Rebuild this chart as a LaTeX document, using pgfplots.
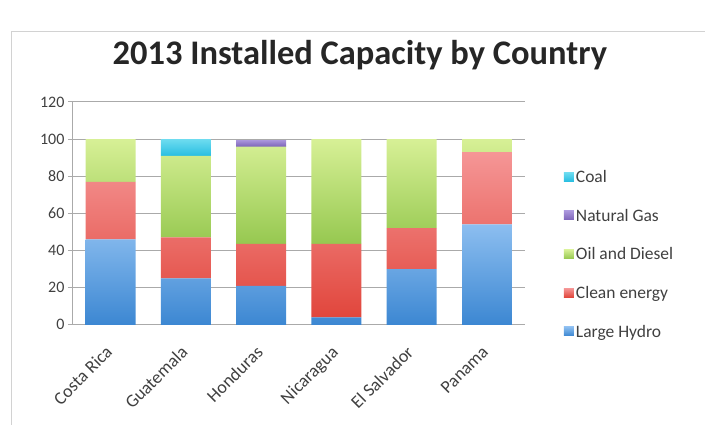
\documentclass[border=0pt]{standalone}
\usepackage{pgfplots}
\pgfplotsset{compat=1.18}
\usepackage{fontspec}
\setmainfont{Carlito}
\definecolor{hydroT}{RGB}{140,190,240}
\definecolor{hydroB}{RGB}{60,135,210}
\definecolor{cleanT}{RGB}{245,150,150}
\definecolor{cleanB}{RGB}{225,70,60}
\definecolor{oilT}{RGB}{215,240,150}
\definecolor{oilB}{RGB}{150,200,80}
\definecolor{gasT}{RGB}{170,150,220}
\definecolor{gasB}{RGB}{125,100,185}
\definecolor{coalT}{RGB}{110,220,240}
\definecolor{coalB}{RGB}{40,190,225}
\definecolor{tick}{RGB}{64,64,64}
\definecolor{gridc}{RGB}{170,170,170}
\begin{document}
\begin{tikzpicture}[x=1pt,y=1pt]
\path (0,0) rectangle (705,-425);
\draw[gray!35,line width=1pt] (12,-425) -- (12,-32) -- (705,-32);
\node[font=\fontsize{34.5}{40}\selectfont\bfseries,text=black!85] at (360,-55) {2013 Installed Capacity by Country};
\begin{axis}[
  at={(73pt,-325pt)}, anchor=south west,
  scale only axis, width=452pt, height=223pt,
  ybar stacked, bar width=50pt,
  xmin=-0.5, xmax=5.5, ymin=0, ymax=120,
  ytick={0,20,...,120},
  xtick={0,1,2,3,4,5},
  xticklabels={Costa Rica,Guatemala,Honduras,Nicaragua,El Salvador,Panama},
  x tick label style={xshift=-6pt, yshift=-10pt, rotate=45, anchor=north east, font=\fontsize{18}{20}\selectfont, text=tick},
  y tick label style={font=\fontsize{16}{18}\selectfont, text=tick},
  /pgf/number format/assume math mode=true,
  ymajorgrids, grid style={gridc, line width=1pt},
  axis x line*=bottom, axis y line*=left,
  x axis line style={gridc, line width=1pt, -},
  y axis line style={gridc, line width=1pt, -},
  xtick style={draw=none},
  ytick style={gridc, line width=1pt},
  tick align=outside, major tick length=5pt,
  reverse legend,
  legend style={at={(1.08,0.711)}, anchor=north west, draw=none, fill=none,
    font=\fontsize{17.5}{20}\selectfont, text=tick, row sep=21pt,
    /tikz/every even column/.append style={column sep=4pt}},
  legend cell align=left,
  legend image code/.code={\fill[#1] (0pt,-4pt) rectangle (10pt,5pt);},
  clip=false,
]
\addplot[draw=none, top color=hydroT, bottom color=hydroB] coordinates {(0,46) (1,25) (2,21) (3,4) (4,30) (5,54)};
\addplot[draw=none, top color=cleanT, bottom color=cleanB] coordinates {(0,31) (1,22) (2,22.5) (3,39.5) (4,22) (5,39)};
\addplot[draw=none, top color=oilT, bottom color=oilB] coordinates {(0,23) (1,44) (2,52.5) (3,56.5) (4,48) (5,7)};
\addplot[draw=none, top color=gasT, bottom color=gasB] coordinates {(0,0) (1,0) (2,3.5) (3,0) (4,0) (5,0)};
\addplot[draw=none, top color=coalT, bottom color=coalB] coordinates {(0,0) (1,9) (2,0) (3,0) (4,0) (5,0)};
\legend{Large Hydro,Clean energy,Oil and Diesel,Natural Gas,Coal}
\end{axis}
\end{tikzpicture}
\end{document}
